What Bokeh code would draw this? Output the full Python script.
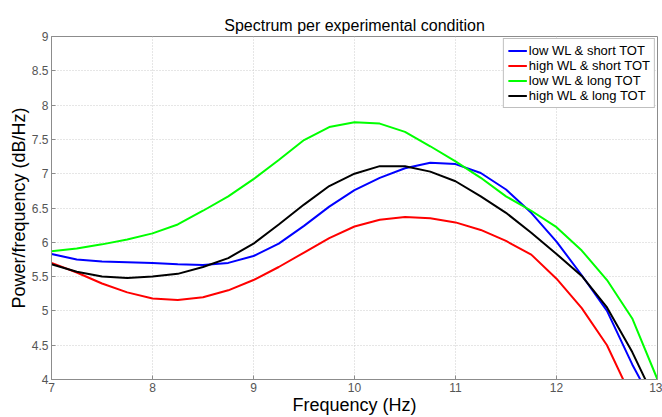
from bokeh.plotting import figure
from bokeh.models import FixedTicker, Legend, LegendItem, Range1d
from bokeh.embed import file_html
from bokeh.resources import INLINE

freq = [7.0, 7.25, 7.5, 7.75, 8.0, 8.25, 8.5, 8.75, 9.0, 9.25, 9.5, 9.75, 10.0,
        10.25, 10.5, 10.75, 11.0, 11.25, 11.5, 11.75, 12.0, 12.25, 12.5, 12.75, 13.0]

low_wl_short_tot = [5.83, 5.75, 5.72, 5.71, 5.70, 5.68, 5.67, 5.70, 5.80, 5.98, 6.24, 6.52, 6.76,
                    6.94, 7.08, 7.16, 7.14, 7.01, 6.77, 6.43, 6.01, 5.52, 5.00, 4.22, 3.53]
high_wl_short_tot = [5.70, 5.56, 5.40, 5.27, 5.18, 5.16, 5.20, 5.30, 5.45, 5.64, 5.85, 6.06, 6.23,
                     6.33, 6.37, 6.35, 6.29, 6.18, 6.02, 5.82, 5.47, 5.04, 4.50, 3.72, 2.80]
low_wl_long_tot = [5.87, 5.91, 5.97, 6.04, 6.13, 6.26, 6.46, 6.67, 6.92, 7.20, 7.49, 7.68, 7.75,
                   7.73, 7.61, 7.40, 7.18, 6.94, 6.67, 6.46, 6.22, 5.88, 5.45, 4.89, 4.00]
high_wl_long_tot = [5.68, 5.57, 5.50, 5.48, 5.50, 5.54, 5.64, 5.77, 5.98, 6.26, 6.55, 6.82, 7.00,
                    7.11, 7.11, 7.03, 6.89, 6.67, 6.43, 6.14, 5.83, 5.51, 5.05, 4.40, 3.63]

series_names = ["low WL & short TOT", "high WL & short TOT", "low WL & long TOT", "high WL & long TOT"]
series_values = [low_wl_short_tot, high_wl_short_tot, low_wl_long_tot, high_wl_long_tot]
series_colors = ["#0000ff", "#ff0000", "#00ff00", "#000000"]

x_ticks = [7, 8, 9, 10, 11, 12, 13]
y_ticks = [4, 4.5, 5, 5.5, 6, 6.5, 7, 7.5, 8, 8.5, 9]

FONT = "Liberation Sans"

p = figure(width=662, height=417, output_backend="svg", toolbar_location=None,
           x_range=Range1d(7, 13), y_range=Range1d(4, 9),
           title="Spectrum per experimental condition",
           min_border_left=51, min_border_right=5, min_border_top=36, min_border_bottom=34)

p.title.align = "center"
p.title.text_font = FONT
p.title.text_font_size = "16px"
p.title.text_font_style = "normal"
p.title.text_color = "#000000"
p.title.standoff = 6

renderers = []
for name, vals, col in zip(series_names, series_values, series_colors):
    r = p.line(freq, vals, line_color=col, line_width=2)
    renderers.append((name, r))

legend = Legend(items=[LegendItem(label=n, renderers=[r]) for n, r in renderers],
                location="top_right")
legend.label_text_font = FONT
legend.label_text_font_size = "13px"
legend.label_text_color = "#000000"
legend.label_height = 15
legend.glyph_height = 15
legend.glyph_width = 19
legend.label_standoff = 2
legend.spacing = 0
legend.padding = 4
legend.margin = 2
legend.border_line_color = "#808080"
legend.border_line_width = 1
legend.background_fill_color = "white"
legend.background_fill_alpha = 1
p.add_layout(legend)

for ax in (p.xaxis[0], p.yaxis[0]):
    ax.axis_line_color = "#8c8c8c"
    ax.major_tick_line_color = "#8c8c8c"
    ax.major_tick_in = 4
    ax.major_tick_out = 0
    ax.minor_tick_line_color = None
    ax.major_label_text_font = FONT
    ax.major_label_text_font_size = "12px"
    ax.major_label_text_color = "#555555"
    ax.axis_label_text_font = FONT
    ax.axis_label_text_font_size = "18px"
    ax.axis_label_text_font_style = "normal"
    ax.axis_label_text_color = "#000000"
    ax.major_label_standoff = 3
    ax.axis_label_standoff = 0

p.xaxis[0].ticker = FixedTicker(ticks=x_ticks)
p.yaxis[0].ticker = FixedTicker(ticks=y_ticks)
p.xaxis[0].major_label_overrides = {t: f"{t:g}" for t in x_ticks}
p.yaxis[0].major_label_overrides = {t: f"{t:g}" for t in y_ticks}
p.xaxis[0].axis_label = "Frequency (Hz)"
p.yaxis[0].axis_label = "Power/frequency (dB/Hz)"

p.xgrid.ticker = FixedTicker(ticks=x_ticks)
p.ygrid.ticker = FixedTicker(ticks=y_ticks)
for g in (p.xgrid[0], p.ygrid[0]):
    g.grid_line_color = "#cccccc"
    g.grid_line_dash = "1 2"
    g.grid_line_width = 1

p.outline_line_color = "#8c8c8c"
p.outline_line_width = 1
p.background_fill_color = "white"
p.border_fill_color = "white"

open("out.html", "w").write(file_html(p, INLINE))
